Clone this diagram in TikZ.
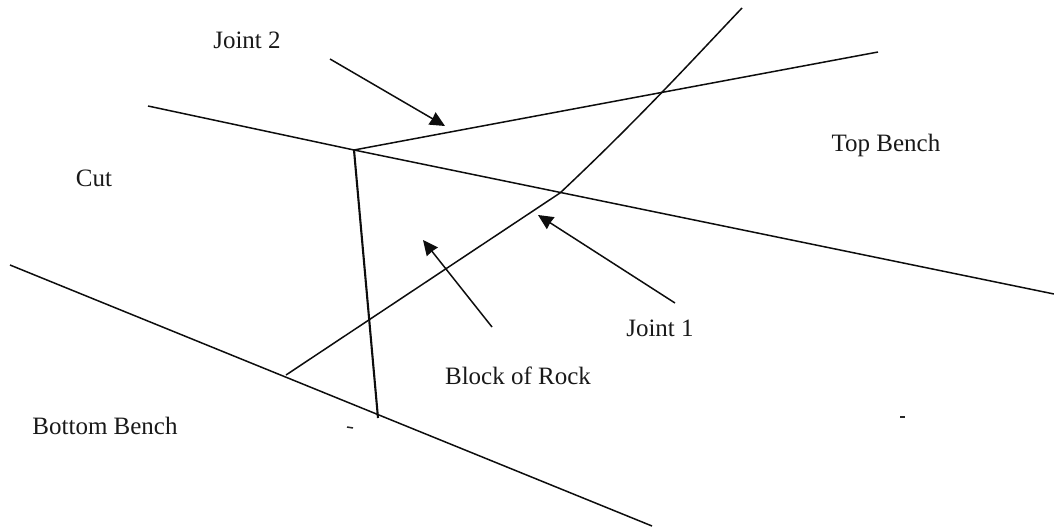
\documentclass[tikz,border=0pt]{standalone}
\usepackage{fontspec}
\setmainfont{Liberation Serif}
\usetikzlibrary{arrows.meta}
\tikzset{
 ln/.style={draw=black!95,line width=1.5pt},
 thick ln/.style={draw=black!95,line width=2.1pt},
 arrowln/.style={draw=black!95,line width=1.5pt,-{Stealth[length=15pt,width=14pt,inset=0.5pt]}},
 speck/.style={draw=black!85,line width=1.5pt},
 lab/.style={font=\fontsize{25pt}{28pt}\selectfont,inner sep=0pt,text=black!90}
}
\begin{document}
\begin{tikzpicture}[x=1pt,y=-1pt]
\useasboundingbox (0,0) rectangle (1054,530);
\node[lab] (j2) at (247,40) {Joint 2};
\node[lab] (tb) at (886,145) {Top Bench};
\node[lab] (cut) at (94,178) {Cut};
\node[lab] (j1) at (660,328) {Joint 1};
\node[lab] (bl) at (518,376) {Block of Rock};
\node[lab] (bb) at (105,426) {Bottom Bench};
\coordinate (a) at (148,106);
\coordinate (b) at (354,150);
\coordinate (c) at (1054,294);
\coordinate (d) at (878,52);
\coordinate (e) at (742,8);
\coordinate (g) at (560,193);
\coordinate (h) at (286,375);
\coordinate (i) at (10,265);
\coordinate (j) at (652,526);
\coordinate (k) at (378,418);
\draw[ln] (a) -- (b) -- (c);
\draw[ln] (b) -- (d);
\draw[ln] (e) .. controls (700,52) and (640,118) .. (g) -- (h);
\draw[ln] (i) -- (j);
\draw[thick ln] (b) -- (k);
\coordinate (a1s) at (330,59);
\coordinate (a1e) at (445,126);
\coordinate (a2s) at (675,303);
\coordinate (a2e) at (538,215);
\coordinate (a3s) at (492,327);
\coordinate (a3e) at (423,240);
\draw[arrowln] (a1s) -- (a1e);
\draw[arrowln] (a2s) -- (a2e);
\draw[arrowln] (a3s) -- (a3e);
\coordinate (s1a) at (347,427);
\coordinate (s1b) at (353,428);
\coordinate (s2a) at (900,417);
\coordinate (s2b) at (905,417);
\draw[speck] (s1a) -- (s1b);
\draw[speck] (s2a) -- (s2b);
\end{tikzpicture}
\end{document}
